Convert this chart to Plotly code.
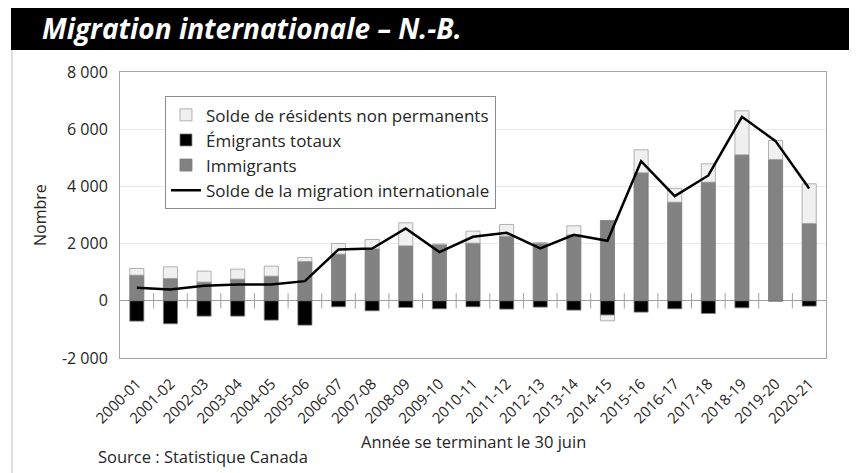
import plotly.graph_objects as go

categories = ["2000-01", "2001-02", "2002-03", "2003-04", "2004-05", "2005-06", "2006-07",
              "2007-08", "2008-09", "2009-10", "2010-11", "2011-12", "2012-13", "2013-14",
              "2014-15", "2015-16", "2016-17", "2017-18", "2018-19", "2019-20", "2020-21"]

immigrants = [897, 781, 653, 758, 862, 1375, 1632, 1818, 1923, 1960, 2016, 2261, 2010, 2308,
              2809, 4476, 3450, 4149, 5105, 4942, 2704]
emigrants = [-711, -804, -536, -536, -676, -851, -210, -350, -233, -280, -210, -291, -221, -326,
             -501, -396, -280, -443, -245, -10, -186]
npr = [233, 408, 384, 349, 350, 140, 373, 326, 804, 21, 420, 408, 18, 314,
       -198, 804, 478, 641, 1538, 664, 1387]
net_migration = [455, 396, 524, 571, 571, 688, 1795, 1830, 2529, 1702, 2238, 2378, 1830, 2308,
                 2098, 4883, 3660, 4382, 6434, 5583, 3928]

y_tickvals = [-2000, 0, 2000, 4000, 6000, 8000]
y_ticktext = ["-2 000", "0", "2 000", "4 000", "6 000", "8 000"]

FONT = "Open Sans"
TXT = "#262626"

fig = go.Figure()
fig.add_trace(go.Bar(x=categories, y=immigrants, name="Immigrants", legendrank=3,
                     legendgroup="c",
                     marker=dict(color="#828282", line=dict(color="#7a7a7a", width=0.8))))
fig.add_trace(go.Bar(x=categories, y=emigrants, name="Émigrants totaux", legendrank=2,
                     legendgroup="b",
                     marker=dict(color="#000000", line=dict(color="#808080", width=0.8))))
fig.add_trace(go.Bar(x=categories, y=npr, name="Solde de résidents non permanents", legendrank=1,
                     legendgroup="a",
                     marker=dict(color="#f0f0f0", line=dict(color="#a0a0a0", width=0.8))))

# category-boundary tick marks crossing the zero line (on a linear overlay axis)
boundaries = [i + 0.5 for i in range(len(categories) - 1)]
fig.add_trace(go.Scatter(x=boundaries, y=[0] * len(boundaries), mode="markers",
                         xaxis="x2", yaxis="y", showlegend=False, hoverinfo="skip",
                         marker=dict(symbol="line-ns-open", size=11, color="#a0a0a0",
                                     line=dict(color="#a0a0a0", width=1))))

fig.add_trace(go.Scatter(x=categories, y=net_migration, mode="lines",
                         name="Solde de la migration internationale", legendrank=4,
                         legendgroup="d",
                         line=dict(color="#000000", width=2.5)))

fig.update_layout(
    width=849, height=465,
    margin=dict(l=112, r=31, t=64, b=115),
    paper_bgcolor="white", plot_bgcolor="white",
    barmode="relative", bargap=0.58,
    font=dict(family=FONT, size=15, color=TXT),
    showlegend=True,
    legend=dict(x=0.0637, y=0.915, xanchor="left", yanchor="top",
                bordercolor="#8c8c8c", borderwidth=1, bgcolor="white",
                font=dict(family=FONT, size=17, color=TXT),
                tracegroupgap=0, itemwidth=30),
    xaxis=dict(type="category", showgrid=False, tickangle=-45,
               tickfont=dict(size=15, color=TXT), ticks="",
               showline=True, linecolor="#a6a6a6", linewidth=1, mirror=True,
               range=[-0.5, 20.5], ticklabelstandoff=10),
    yaxis=dict(range=[-2000, 8000], tickvals=y_tickvals, ticktext=y_ticktext,
               tickfont=dict(size=16, color=TXT), showgrid=True, gridcolor="#ebebeb",
               gridwidth=1, zeroline=True, zerolinecolor="#a0a0a0", zerolinewidth=1,
               showline=True, linecolor="#a6a6a6", linewidth=1, mirror=True,
               ticklabelstandoff=8),
    xaxis2=dict(overlaying="x", anchor="y", range=[-0.5, 20.5], visible=False,
                showgrid=False, zeroline=False),
)

# title bar and frame
fig.add_shape(type="rect", xref="paper", yref="paper",
              x0=-0.1544, x1=1.0439, y0=1.0769, y1=1.2308,
              fillcolor="black", line=dict(width=0), layer="above")
fig.add_shape(type="line", xref="paper", yref="paper",
              x0=-0.153, x1=-0.153, y0=1.0769, y1=-0.41,
              line=dict(color="#c0c0c0", width=1))
fig.add_shape(type="line", xref="paper", yref="paper",
              x0=1.0411, x1=1.0411, y0=1.0769, y1=-0.41,
              line=dict(color="#c0c0c0", width=1))

fig.add_annotation(text="Migration internationale – N.-B.", xref="paper", yref="paper",
                   x=-0.1133, y=1.1538, xanchor="left", yanchor="middle", showarrow=False,
                   font=dict(family=FONT, size=28, color="white", weight="bold", style="italic"))
fig.add_annotation(text="Nombre", xref="paper", yref="paper", x=-0.1133, y=0.5,
                   xanchor="center", yanchor="middle", textangle=-90, showarrow=False,
                   font=dict(family=FONT, size=16, color=TXT))
fig.add_annotation(text="Année se terminant le 30 juin", xref="paper", yref="paper",
                   x=0.5, y=-0.2937, xanchor="center", yanchor="middle", showarrow=False,
                   font=dict(family=FONT, size=16.5, color=TXT))
fig.add_annotation(text="Source : Statistique Canada", xref="paper", yref="paper",
                   x=-0.034, y=-0.3427, xanchor="left", yanchor="middle", showarrow=False,
                   font=dict(family=FONT, size=16.5, color=TXT))

fig.write_html("out.html")
